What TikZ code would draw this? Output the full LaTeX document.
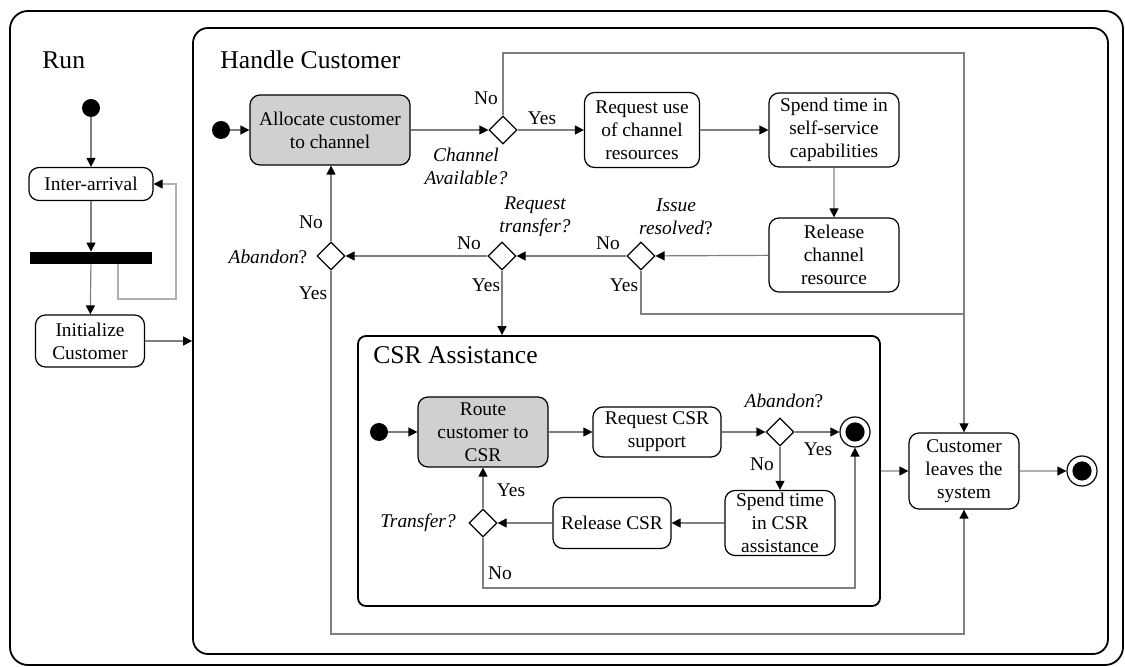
\documentclass[tikz,border=0pt]{standalone}
\usepackage{fontspec}
\setmainfont{Liberation Serif}[Ligatures=TeX]
\newfontfamily\timesfont{Liberation Serif}
\usetikzlibrary{positioning}
\usetikzlibrary{calc}
\usetikzlibrary{arrows.meta}
\usetikzlibrary{shapes.geometric}
\definecolor{flowgray}{RGB}{128,128,128}
\definecolor{loopgray}{RGB}{175,175,175}
\definecolor{shadegray}{RGB}{208,208,208}

\tikzset{
    boxsize/.style 2 args={minimum width=#1*0.5pt, minimum height=#2*0.5pt},
    act/.style={draw, rounded corners=5pt, align=center, inner sep=1pt, line width=0.6pt, fill=white},
    busy/.style={act, fill=shadegray},
    dec/.style={diamond, draw, aspect=1, minimum size=14pt, inner sep=0pt, line width=0.6pt, fill=white},
    init/.style={circle, fill=black, minimum size=9pt, inner sep=0pt},
    final/.style={circle, draw, line width=0.6pt, minimum size=15pt, inner sep=0pt,
        path picture={\fill[black] (path picture bounding box.center) circle (4.8pt);}},
    frame/.style={draw, line width=0.9pt, inner sep=0pt},
    title/.style={font=\timesfont\fontsize{12.8}{15}\selectfont, inner sep=0pt, anchor=west},
    lbl/.style={inner sep=0pt},
    quest/.style={font=\timesfont\fontsize{9.7}{11.5}\selectfont\itshape, align=center, inner sep=0pt},
    flow/.style={draw=flowgray, line width=0.6pt, -{Triangle[length=4.5pt, width=4.5pt, color=black]}},
    line/.style={draw=flowgray, line width=0.6pt}
}

\begin{document}
\begin{tikzpicture}[x=0.5pt, y=-0.5pt, font=\timesfont\fontsize{9.7}{11.5}\selectfont]
    \useasboundingbox (0,0) rectangle (1125,667);

    % frames
    \node[frame, rounded corners=9pt, boxsize={1113}{654}] (run) at (566.5,338) {};
    \node[frame, rounded corners=7.5pt, boxsize={915}{626}] (hc) at (650.5,341) {};
    \node[frame, rounded corners=4pt, boxsize={522}{270}] (csr) at (619,471) {};
    \node[title] (runtitle) at (42,60) {Run};
    \node[title] (hctitle) at (220,60) {Handle Customer};
    \node[title] (csrtitle) at (373,355) {CSR Assistance};

    % Run
    \node[init] (start0) at (91,108) {};
    \node[act, boxsize={124}{33}] (inter) at (91,184) {Inter-arrival};
    \node[fill=black, inner sep=0pt, boxsize={122}{12}] (fork) at (91,258) {};
    \node[act, boxsize={109}{52}] (initc) at (90,341) {Initialize\\Customer};

    % Handle Customer
    \node[init] (start1) at (221,130) {};
    \node[busy, boxsize={160}{70}] (alloc) at (330,130) {Allocate customer\\to channel};
    \node[dec] (dchan) at (503,130) {};
    \node[act, boxsize={115}{75}] (requse) at (642,130) {Request use\\of channel\\resources};
    \node[act, boxsize={130}{74}] (spendself) at (834,130) {Spend time in\\self-service\\capabilities};
    \node[act, boxsize={130}{74}] (relchan) at (834,255) {Release\\channel\\resource};
    \node[dec] (dissue) at (641,256) {};
    \node[dec] (dreqtr) at (502,256) {};
    \node[dec] (daband) at (331,256) {};
    \node[act, boxsize={110}{76}] (leave) at (964,471) {Customer\\leaves the\\system};
    \node[final] (end2) at (1082,471) {};

    % CSR Assistance
    \node[init] (start2) at (379,432) {};
    \node[busy, boxsize={130}{70}] (route) at (483,432) {Route\\customer to\\CSR};
    \node[act, boxsize={128}{50}] (reqcsr) at (657,432) {Request CSR\\support};
    \node[dec] (dab2) at (780,432) {};
    \node[final] (end1) at (855,432) {};
    \node[act, boxsize={110}{65}] (spendcsr) at (780,523) {Spend time\\in CSR\\assistance};
    \node[act, boxsize={118}{51}] (relcsr) at (612,523) {Release CSR};
    \node[dec] (dtrans) at (483,523) {};

    % labels
    \node[lbl] (chno) at (486,98) {No};
    \node[lbl] (chyes) at (542,118) {Yes};
    \node[quest] (chq) at (466,166) {Channel\\Available?};
    \node[quest] (issq) at (676,217) {Issue\\resolved\textup{?}};
    \node[lbl] (issno) at (608,243) {No};
    \node[lbl] (issyes) at (624,285) {Yes};
    \node[quest] (trq) at (535,217) {Request\\transfer?};
    \node[lbl] (trno) at (469,243) {No};
    \node[lbl] (tryes) at (486,285) {Yes};
    \node[lbl] (abq) at (268,257) {\textit{Abandon}?};
    \node[lbl] (abno) at (311,222) {No};
    \node[lbl] (abyes) at (313,293) {Yes};
    \node[lbl] (ab2q) at (784,401) {\textit{Abandon}?};
    \node[lbl] (ab2yes) at (818,449) {Yes};
    \node[lbl] (ab2no) at (762,464) {No};
    \node[quest] (tfq) at (418,523) {Transfer?};
    \node[lbl] (tfyes) at (511,490) {Yes};
    \node[lbl] (tfno) at (500,573) {No};

    % Run connectors
    \draw[flow] (start0) -- (inter);
    \draw[flow] (inter) -- (fork);
    \draw[flow] (fork) -- (initc);
    \coordinate (looprt) at (176,299);
    \draw[flow, draw=loopgray] ([xshift=13.5pt]fork.south) |- (looprt) |- (inter.east);
    \draw[flow] (initc.east) -- (initc.east -| hc.west);

    % Handle Customer connectors
    \draw[flow] (start1) -- (alloc);
    \draw[flow] (alloc) -- (dchan);
    \draw[flow] (dchan) -- (requse);
    \draw[flow] (requse) -- (spendself);
    \draw[flow, draw=loopgray] (spendself) -- (relchan);
    \draw[flow] (relchan) -- (dissue);
    \draw[flow] (dissue) -- (dreqtr);
    \draw[flow] (dreqtr) -- (daband);
    \draw[flow] (daband.north) -- (daband.north |- alloc.south);
    \coordinate (toprt) at (964,53);
    \draw[flow] (dchan.north) |- (toprt) -- (leave.north);
    \coordinate (issuert) at (964,314);
    \draw[line] (dissue.south) |- (issuert);
    \draw[flow] (dreqtr.south) -- (dreqtr.south |- csr.north);
    \coordinate (botrt) at (964,634);
    \draw[flow] (daband.south) |- (botrt) -- (leave.south);
    \draw[flow, draw=loopgray] (csr.east) -- (leave.west);
    \draw[flow, draw=loopgray] (leave) -- (end2);

    % CSR connectors
    \draw[flow] (start2) -- (route);
    \draw[flow] (route) -- (reqcsr);
    \draw[flow] (reqcsr) -- (dab2);
    \draw[flow] (dab2) -- (end1);
    \draw[flow] (dab2) -- (spendcsr);
    \draw[flow] (spendcsr) -- (relcsr);
    \draw[flow] (relcsr) -- (dtrans);
    \draw[flow] (dtrans) -- (route);
    \coordinate (csrbot) at (855,588);
    \draw[flow] (dtrans.south) |- (csrbot) -- (end1.south);
\end{tikzpicture}
\end{document}
